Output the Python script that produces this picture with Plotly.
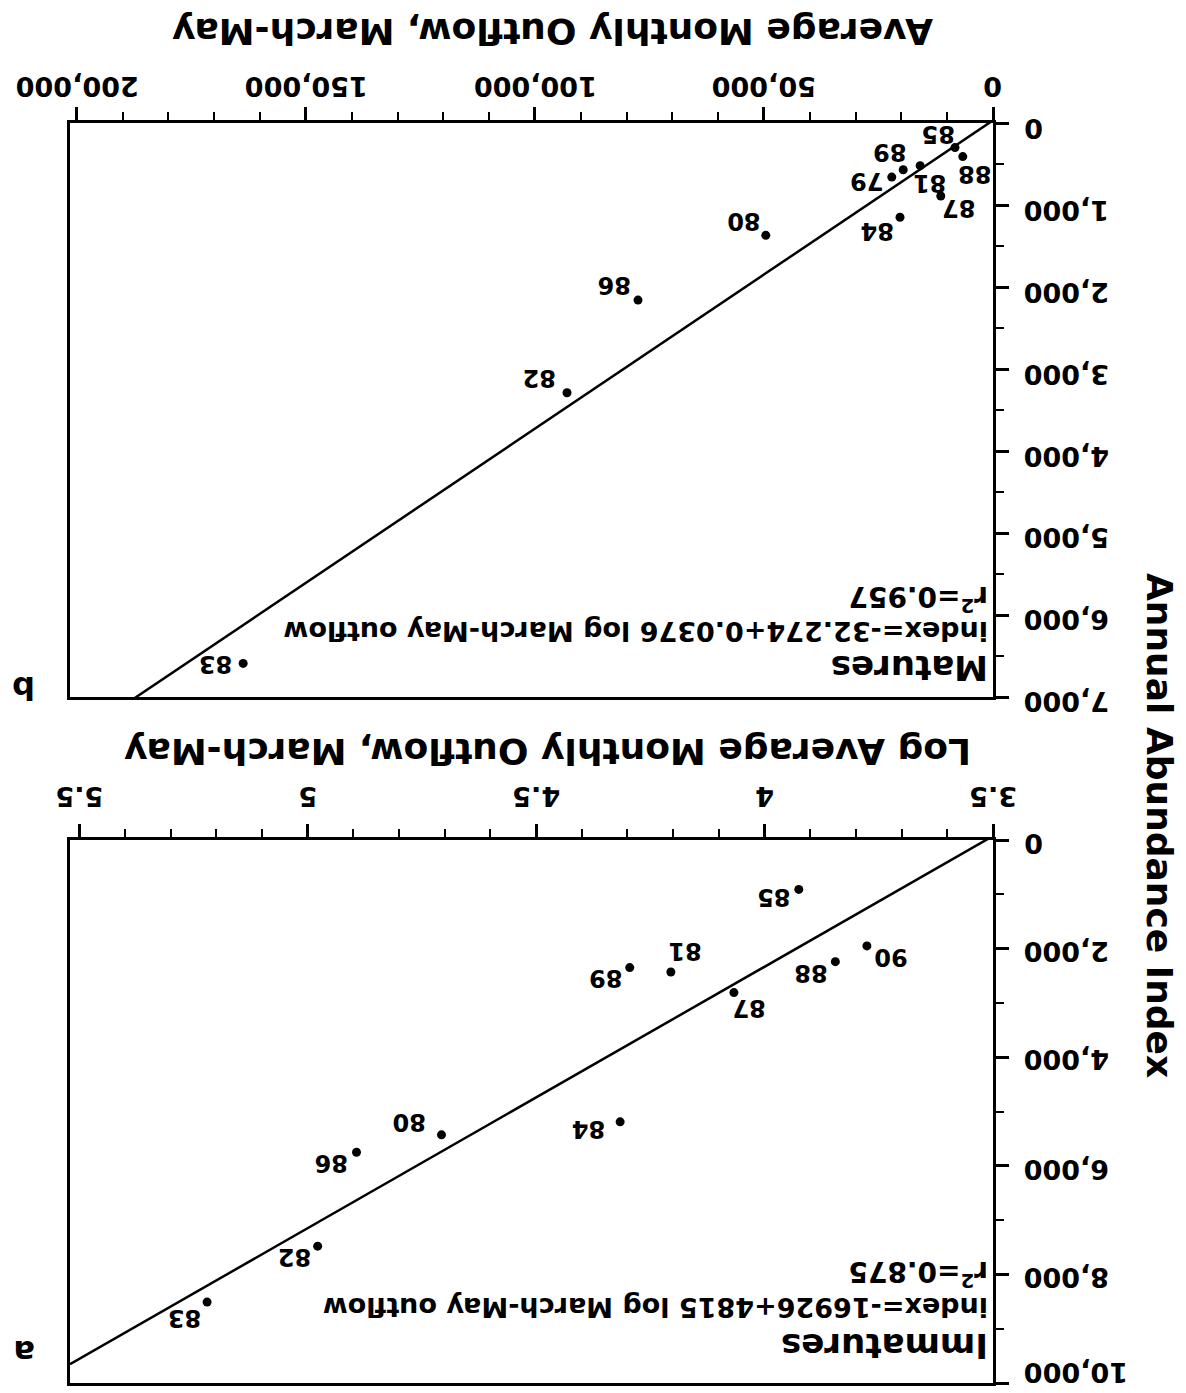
import plotly.graph_objects as go

# Panel b: matures vs. average monthly outflow (March-May)
years_b = ["79", "80", "81", "82", "83", "84", "85", "86", "87", "88", "89"]
flow_b = [22100, 49600, 15900, 93000, 163700, 20300, 8300, 77500, 11400, 6600, 19600]
index_b = [660, 1370, 520, 3290, 6590, 1150, 300, 2160, 890, 410, 570]
coef_b = (-32.274, 0.0376)
xticks_b = [0, 50000, 100000, 150000, 200000]
yticks_b = [0, 1000, 2000, 3000, 4000, 5000, 6000, 7000]

# Panel a: immatures vs. log average monthly outflow (March-May)
years_a = ["80", "81", "82", "83", "84", "85", "86", "87", "88", "89", "90"]
logflow_a = [4.707, 4.205, 4.978, 5.220, 4.316, 3.925, 4.893, 4.067, 3.845, 4.295, 3.776]
index_a = [5430, 2430, 7480, 8510, 5190, 910, 5750, 2810, 2240, 2350, 1950]
coef_a = (-16926, 4815)
xticks_a = [3.5, 4, 4.5, 5, 5.5]
xtext_a = ["3.5", "4", "4.5", "5", "5.5"]
yticks_a = [0, 2000, 4000, 6000, 8000, 10000]

W, H = 1186, 1393
FONT = "DejaVu Sans"


def px(x):
    return x / W


def py(y):
    return 1 - y / H


# label offsets (screen pixels, right/down) for each year label
off_b = {"79": (-25, 4), "80": (-22, -15), "81": (10, 18), "82": (-27, -15),
         "83": (-27, 0), "84": (-22, 13), "85": (-17, -13), "86": (-23, -15),
         "87": (18, 12), "88": (12, 18), "89": (-13, -17)}
off_a = {"80": (-32, -13), "81": (14, -21), "82": (-23, 11), "83": (-22, 16),
         "84": (-31, 7), "85": (-25, 7), "86": (-25, 11), "87": (15, 16),
         "88": (-24, 12), "89": (-24, 11), "90": (24, 11)}

fig = go.Figure()

# regression lines
xb_line = [0, 201500]
fig.add_trace(go.Scatter(x=xb_line, y=[coef_b[0] + coef_b[1] * v for v in xb_line],
                         mode="lines", line=dict(color="black", width=2.5),
                         xaxis="x", yaxis="y", hoverinfo="skip"))
xa_line = [3.5, 5.52]
fig.add_trace(go.Scatter(x=xa_line, y=[coef_a[0] + coef_a[1] * v for v in xa_line],
                         mode="lines", line=dict(color="black", width=2.5),
                         xaxis="x2", yaxis="y2", hoverinfo="skip"))

# observed points
fig.add_trace(go.Scatter(x=flow_b, y=index_b, mode="markers",
                         marker=dict(color="black", size=9),
                         xaxis="x", yaxis="y", text=years_b))
fig.add_trace(go.Scatter(x=logflow_a, y=index_a, mode="markers",
                         marker=dict(color="black", size=9),
                         xaxis="x2", yaxis="y2", text=years_a))

ann = []


def font(size, weight="bold"):
    return dict(family=FONT, size=size, color="black", weight=weight)


for yr, xv, yv in zip(years_b, flow_b, index_b):
    dx, dy = off_b[yr]
    ann.append(dict(x=xv, y=yv, xref="x", yref="y", text=yr, showarrow=False,
                    textangle=180, xshift=dx, yshift=-dy, font=font(24)))
for yr, xv, yv in zip(years_a, logflow_a, index_a):
    dx, dy = off_a[yr]
    ann.append(dict(x=xv, y=yv, xref="x2", yref="y2", text=yr, showarrow=False,
                    textangle=180, xshift=dx, yshift=-dy, font=font(24)))

# upside-down tick labels
TICK = 27
for v in xticks_b:
    ann.append(dict(x=v, y=py(87), xref="x", yref="paper", text=f"{v:,}",
                    showarrow=False, textangle=180, xanchor="center",
                    yanchor="middle", font=font(TICK)))
for v in yticks_b:
    ann.append(dict(x=px(1022), y=v, xref="paper", yref="y", text=f"{v:,}",
                    showarrow=False, textangle=180, xanchor="left",
                    yanchor="middle", yshift=-5, font=font(TICK)))
for v, t in zip(xticks_a, xtext_a):
    ann.append(dict(x=v, y=py(797), xref="x2", yref="paper", text=t,
                    showarrow=False, textangle=180, xanchor="center",
                    yanchor="middle", font=font(TICK)))
for v in yticks_a:
    ann.append(dict(x=px(1022), y=v, xref="paper", yref="y2", text=f"{v:,}",
                    showarrow=False, textangle=180, xanchor="left",
                    yanchor="middle", yshift=10 if v == yticks_a[-1] else -3,
                    font=font(TICK)))


def text(x, y, s, size, xanchor="center", yanchor="middle", angle=180, weight="bold"):
    ann.append(dict(x=px(x), y=py(y), xref="paper", yref="paper", text=s,
                    showarrow=False, textangle=angle, xanchor=xanchor, yanchor=yanchor,
                    font=font(size, weight)))


# axis titles
text(553, 32, "Average Monthly Outflow, March-May", 36)
text(548, 752, "Log Average Monthly Outflow, March-May", 36)
text(1160, 825, "Annual Abundance Index", 36, angle=90)

# panel titles and fits
text(990, 668, "Matures", 34, xanchor="right")
text(990, 632, "index=-32.274+0.0376 log March-May outflow", 27, xanchor="right")
text(990, 598, "r<sup>2</sup>=0.957", 28, xanchor="right")
text(990, 1346, "Immatures", 34, xanchor="right")
text(990, 1308, "index=-16926+4815 log March-May outflow", 27, xanchor="right")
text(990, 1274, "r<sup>2</sup>=0.875", 28, xanchor="right")

# panel letters
text(24, 688, "b", 32)
text(24, 1352, "a", 32)

axis_common = dict(showline=True, linecolor="black", linewidth=2.5, mirror=True,
                   ticks="outside", tickcolor="black", tickwidth=2.5, ticklen=13,
                   showgrid=False, zeroline=False, showticklabels=False,
                   automargin=False)
minor_common = dict(ticks="outside", ticklen=8, tickwidth=2, tickcolor="black")

x_dom = [px(70), px(993)]

fig.update_layout(
    width=W, height=H, margin=dict(l=0, r=0, t=0, b=0, autoexpand=False),
    paper_bgcolor="white", plot_bgcolor="white", showlegend=False,
    annotations=ann,
    xaxis=dict(domain=x_dom, anchor="y", side="top", range=[201500, 0],
               tickvals=xticks_b, minor=dict(dtick=10000, tick0=0, **minor_common),
               **axis_common),
    yaxis=dict(domain=[py(697), py(123)], anchor="x", side="right", range=[7000, 0],
               tickvals=yticks_b, minor=dict(dtick=500, tick0=0, **minor_common),
               **axis_common),
    xaxis2=dict(domain=x_dom, anchor="y2", side="top", range=[5.52, 3.5],
                tickvals=xticks_a, minor=dict(dtick=0.1, tick0=3.5, **minor_common),
                **axis_common),
    yaxis2=dict(domain=[py(1383), py(840)], anchor="x2", side="right", range=[10000, 0],
                tickvals=yticks_a, minor=dict(dtick=1000, tick0=0, **minor_common),
                **axis_common),
)

fig.write_html("out.html")
